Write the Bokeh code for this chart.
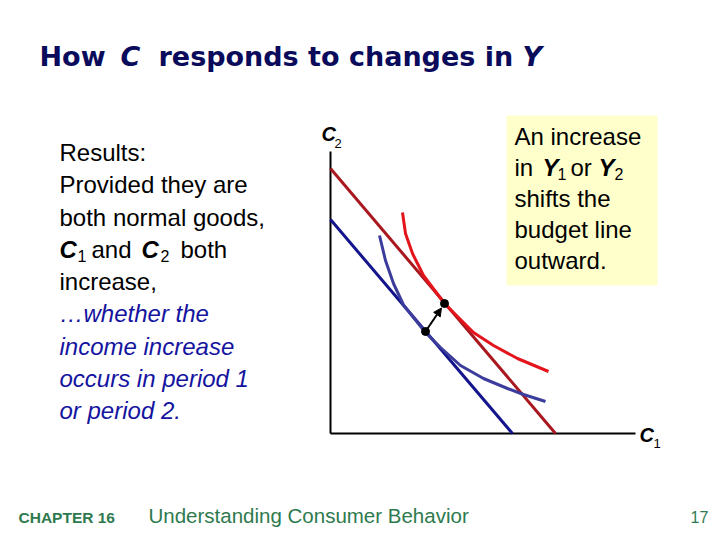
from bokeh.plotting import figure
from bokeh.models import Range1d, Label, Arrow, NormalHead, BoxAnnotation
from bokeh.embed import file_html
from bokeh.resources import INLINE

# axis extents (C1, C2 units)
c1_axis_max = 305
c2_axis_max = 282

# budget lines: intercepts on the C1 and C2 axes
blue_budget_c1 = [0, 182]
blue_budget_c2 = [214, 0]
red_budget_c1 = [0, 225]
red_budget_c2 = [265, 0]

# indifference curves
blue_ic_c1 = [49, 55, 63, 73, 95, 110, 130, 153, 177, 193, 215]
blue_ic_c2 = [198, 173, 150, 128.5, 101, 86, 68, 55, 45, 39, 32]
red_ic_c1 = [72, 75, 82, 93, 114, 143, 163, 187, 218]
red_ic_c2 = [221, 200, 180, 158, 130, 101, 88, 75, 62]

# optimal points before / after
point_c1 = [95, 114]
point_c2 = [102, 130]

# origin of the diagram in page pixels; 1 unit = 1 px
OX, OY = 330, 433

p = figure(width=720, height=540, output_backend="svg", toolbar_location=None,
           x_range=Range1d(0 - OX, 720 - OX), y_range=Range1d(OY - 540, OY - 0),
           min_border=0)
p.axis.visible = False
p.grid.visible = False
p.outline_line_color = None
p.background_fill_color = "white"

# yellow note box
p.add_layout(BoxAnnotation(left=506 - OX, right=657 - OX, top=OY - 115, bottom=OY - 285,
                           fill_color="#FFFFCC", fill_alpha=1, line_color=None,
                           level="underlay"))

# axes of the diagram
p.line([0, 0], [0, c2_axis_max], line_color="black", line_width=2)
p.line([0, c1_axis_max], [0, 0], line_color="black", line_width=2)

p.line(blue_budget_c1, blue_budget_c2, line_color="#14148C", line_width=3)
p.line(red_budget_c1, red_budget_c2, line_color="#A8181E", line_width=3)
p.line(blue_ic_c1, blue_ic_c2, line_color="#3C3C9C", line_width=3, line_join="round")
p.line(red_ic_c1, red_ic_c2, line_color="#E4141C", line_width=3, line_join="round")

# arrow from old to new choice, stopping just short of the new point
f = 0.84
ax_end = point_c1[0] + f * (point_c1[1] - point_c1[0])
ay_end = point_c2[0] + f * (point_c2[1] - point_c2[0])
p.add_layout(Arrow(x_start=point_c1[0], y_start=point_c2[0], x_end=ax_end, y_end=ay_end,
                   line_color="black", line_width=2,
                   end=NormalHead(size=8, fill_color="black", line_color="black")))
p.scatter(point_c1, point_c2, size=8, color="black")


def lab(px, py, text, size, style="normal", color="black", font="Liberation Sans"):
    # bokeh puts the alphabetic baseline a bit low; lift it by ~0.4 em
    py = py - 0.4 * size
    p.add_layout(Label(x=px - OX, y=OY - py, text=text, text_font=font,
                       text_font_size=f"{size}px", text_font_style=style,
                       text_color=color, text_baseline="alphabetic", text_align="left"))


# title
navy = "#0B0B5C"
lab(39, 67, "How", 27, "bold", navy, "DejaVu Sans")
lab(120, 67, "C", 27, "bold italic", navy, "DejaVu Sans")
lab(158, 67, "responds to changes in", 27, "bold", navy, "DejaVu Sans")
lab(522, 67, "Y", 27, "bold italic", navy, "DejaVu Sans")

# left text
lab(59, 161.5, "Results:", 24)
lab(59, 194, "Provided they are", 24)
lab(59, 226.5, "both normal goods,", 24)
lab(59, 259, "C", 24, "bold italic")
lab(77, 262, "1", 16)
lab(91, 259, "and", 24)
lab(141, 259, "C", 24, "bold italic")
lab(160, 262, "2", 16)
lab(180, 259, "both", 24)
lab(59, 291, "increase,", 24)
blue = "#1414A0"
lab(59, 323, "\u2026whether the", 24, "italic", blue)
lab(59, 355.5, "income increase", 24, "italic", blue)
lab(59, 388, "occurs in period 1", 24, "italic", blue)
lab(59, 420, "or period 2.", 24, "italic", blue)

# note in the box
lab(514, 146, "An increase", 24)
lab(514, 177, "in", 24)
lab(542, 177, "Y", 24, "bold italic")
lab(557, 180, "1", 16)
lab(570, 177, "or", 24)
lab(598, 177, "Y", 24, "bold italic")
lab(614, 180, "2", 16)
lab(514, 208, "shifts the", 24)
lab(514, 239, "budget line", 24)
lab(514, 270, "outward.", 24)

# axis labels
lab(321, 141, "C", 20, "bold italic")
lab(334, 148, "2", 13)
lab(639, 442, "C", 20, "bold italic")
lab(653, 448, "1", 13)

# footer
green = "#2E7A4E"
lab(18, 523, "CHAPTER 16", 15.5, "bold", green)
lab(148, 523, "Understanding Consumer Behavior", 20.5, "normal", green)
lab(690, 523, "17", 16, "normal", green)

open("out.html", "w").write(file_html(p, INLINE))
